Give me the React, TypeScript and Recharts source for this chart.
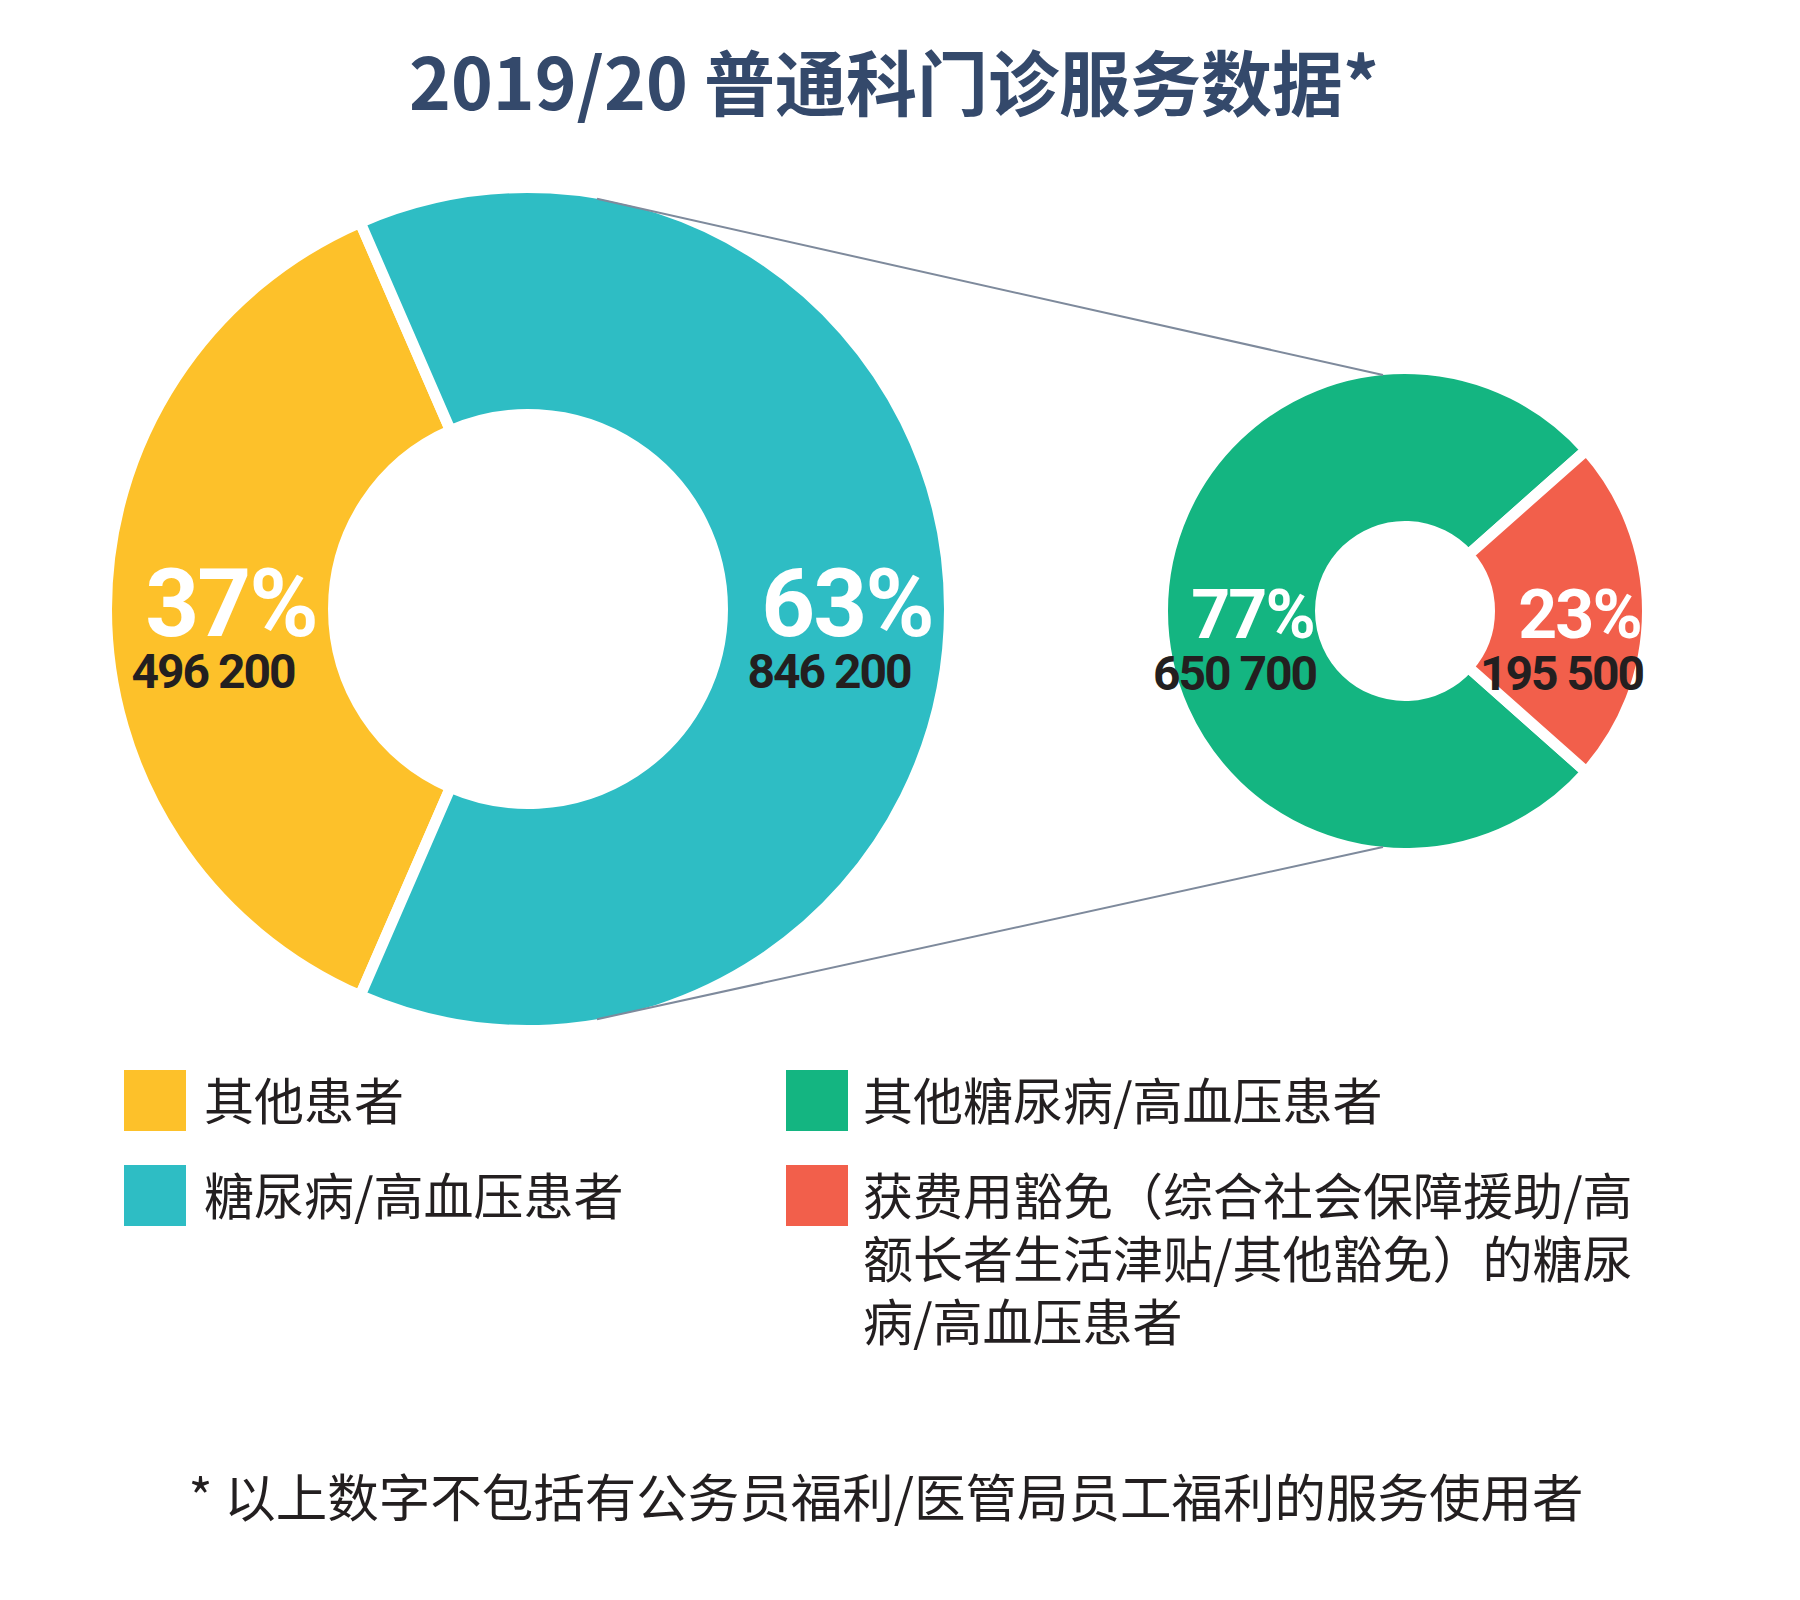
import { PieChart, Pie, Cell } from 'recharts';

// left donut: all patients
const mainNames = ['其他患者', '糖尿病/高血压患者'];
const mainValues = [496200, 846200];
const mainPcts = [37, 63];
const mainColors = ['#FDC12A', '#2EBDC4'];

// right donut: breakdown of the diabetes / hypertension group
const subNames = ['其他糖尿病/高血压患者', '获费用豁免（综合社会保障援助/高额长者生活津贴/其他豁免）的糖尿病/高血压患者'];
const subValues = [650700, 195500];
const subPcts = [77, 23];
const subColors = ['#14B581', '#F25F4B'];

// legend text as printed (the long one wraps onto three lines)
const mainLegendLines = [['其他患者'], ['糖尿病/高血压患者']];
const subLegendLines = [
  ['其他糖尿病/高血压患者'],
  ['获费用豁免（综合社会保障援助/高', '额长者生活津贴/其他豁免）的糖尿', '病/高血压患者'],
];

const TITLE = '2019/20 普通科门诊服务数据*';
const FOOTNOTE = '* 以上数字不包括有公务员福利/医管局员工福利的服务使用者';

const W = 1800;
const H = 1600;
const GAP = 11;
const BIG = { cx: 528, cy: 609, inner: 200, outer: 416 };
const SMALL = { cx: 1405, cy: 611, inner: 90, outer: 237 };
const RAD = Math.PI / 180;
const CJK = '"Noto Sans CJK SC", "Noto Sans", sans-serif';
const NUM = 'Roboto, "Noto Sans", sans-serif';
const INK = '#231F20';

const mainData = mainNames.map((name, i) => ({ name, value: mainValues[i], pct: mainPcts[i] }));
const subData = subNames.map((name, i) => ({ name, value: subValues[i], pct: subPcts[i] }));

const fmt = (v: number) => v.toLocaleString('en-US').replace(/,/g, ' ');

// first slice is centred on the left (180deg)
const startFor = (values: number[]) => {
  const share = values[0] / values.reduce((a, b) => a + b, 0);
  return 180 - share * 180;
};

function makeLabel(pctSize: number) {
  return (props: any) => {
    const { cx, cy, midAngle, innerRadius, outerRadius, payload } = props;
    const r = (innerRadius + outerRadius) / 2;
    const x = cx + r * Math.cos(-midAngle * RAD);
    const y = cy + r * Math.sin(-midAngle * RAD);
    return (
      <g>
        <text x={x + 11} y={y + 27} textAnchor="middle" fill="#fff"
          fontFamily={NUM} fontWeight={700} fontSize={pctSize} letterSpacing={-2}>
          {payload.pct}%
        </text>
        <text x={x - 7} y={y + 79} textAnchor="middle" fill={INK}
          fontFamily={NUM} fontWeight={700} fontSize={48} letterSpacing={-2}>
          {fmt(payload.value)}
        </text>
      </g>
    );
  };
}

// title, connector lines, legend and footnote, drawn over the chart
function Overlay() {
  const lx = BIG.cx + 69;
  const dy = Math.sqrt(BIG.outer ** 2 - 69 ** 2);
  const rx = SMALL.cx - 22;
  const rdy = Math.sqrt(SMALL.outer ** 2 - 22 ** 2);
  const rows = [1120, 1215];
  return (
    <svg width={W} height={H} style={{ position: 'absolute', left: 0, top: 0, pointerEvents: 'none' }}>
      <text x={894} y={110} textAnchor="middle" fill="#34496B" fontFamily={CJK}
        fontWeight={700} fontSize={71}>
        {TITLE}
      </text>
      <line x1={lx} y1={BIG.cy - dy} x2={rx} y2={SMALL.cy - rdy} stroke="#7E8A9C" strokeWidth={2} />
      <line x1={lx} y1={BIG.cy + dy} x2={rx} y2={SMALL.cy + rdy} stroke="#7E8A9C" strokeWidth={2} />
      {mainLegendLines.map((lines, i) => (
        <g key={'m' + i}>
          <rect x={124} y={rows[i] - 50} width={62} height={61} fill={mainColors[i]} />
          {lines.map((t, j) => (
            <text key={j} x={204} y={rows[i] + j * 63} fill={INK} fontFamily={CJK} fontSize={50}>{t}</text>
          ))}
        </g>
      ))}
      {subLegendLines.map((lines, i) => (
        <g key={'s' + i}>
          <rect x={786} y={rows[i] - 50} width={62} height={61} fill={subColors[i]} />
          {lines.map((t, j) => (
            <text key={j} x={863} y={rows[i] + j * 63} fill={INK} fontFamily={CJK} fontSize={50}>{t}</text>
          ))}
        </g>
      ))}
      <text x={886} y={1517} textAnchor="middle" fill={INK} fontFamily={CJK} fontSize={51.5}>
        {FOOTNOTE}
      </text>
    </svg>
  );
}

export default function App() {
  const mainStart = startFor(mainValues);
  const subStart = startFor(subValues);
  return (
    <div style={{ position: 'absolute', left: 0, top: 0, width: W, height: H, background: '#fff' }}>
      <PieChart width={W} height={H} margin={{ top: 0, right: 0, bottom: 0, left: 0 }}>
        <Pie
          data={mainData}
          dataKey="value"
          cx={BIG.cx}
          cy={BIG.cy}
          innerRadius={BIG.inner - GAP / 2}
          outerRadius={BIG.outer + GAP / 2}
          startAngle={mainStart}
          endAngle={mainStart + 360}
          stroke="#fff"
          strokeWidth={GAP}
          label={makeLabel(94)}
          labelLine={false}
          isAnimationActive={false}
        >
          {mainData.map((d, i) => <Cell key={d.name} fill={mainColors[i]} />)}
        </Pie>
        <Pie
          data={subData}
          dataKey="value"
          cx={SMALL.cx}
          cy={SMALL.cy}
          innerRadius={SMALL.inner - GAP / 2}
          outerRadius={SMALL.outer + GAP / 2}
          startAngle={subStart}
          endAngle={subStart + 360}
          stroke="#fff"
          strokeWidth={GAP}
          label={makeLabel(68)}
          labelLine={false}
          isAnimationActive={false}
        >
          {subData.map((d, i) => <Cell key={d.name} fill={subColors[i]} />)}
        </Pie>
      </PieChart>
      <Overlay />
    </div>
  );
}
